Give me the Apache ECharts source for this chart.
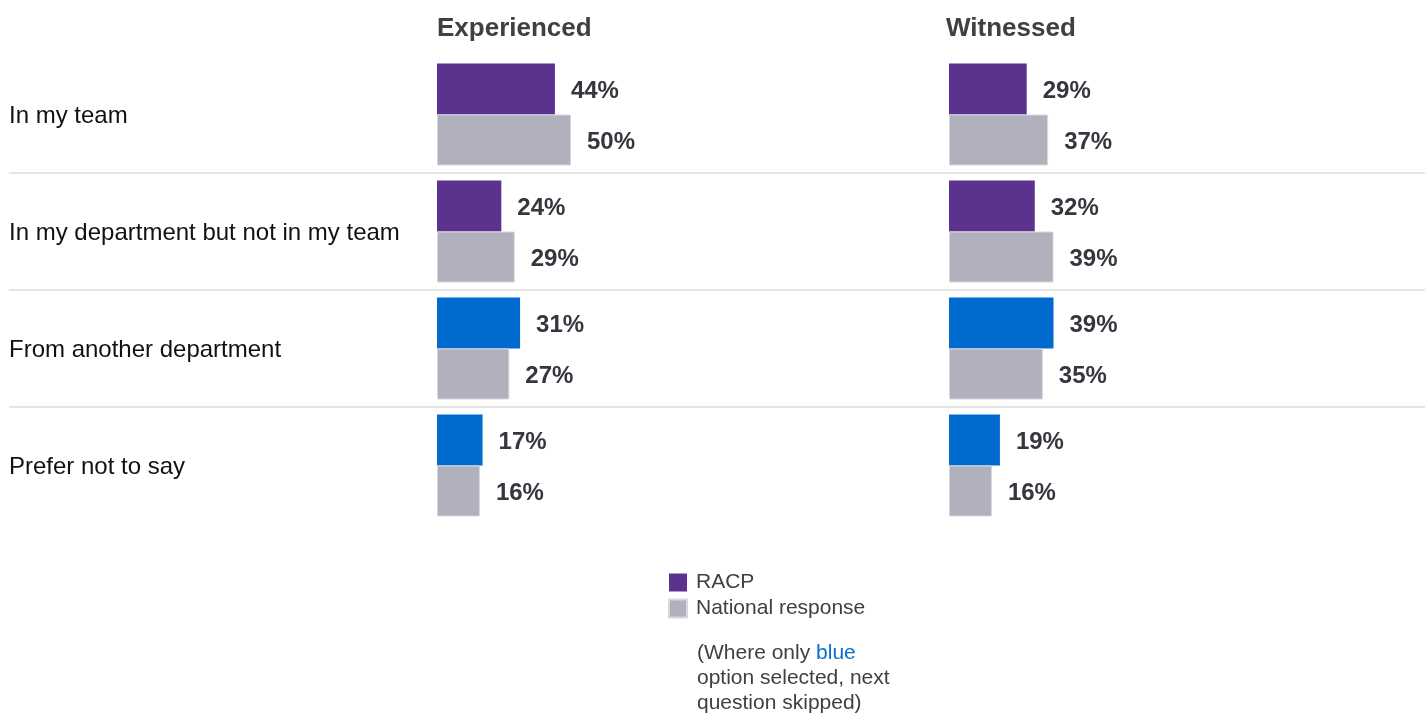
<!DOCTYPE html>
<html><head><meta charset="utf-8">
<script src="https://cdn.jsdelivr.net/npm/echarts@6/dist/echarts.min.js"></script>
<style>html,body{margin:0;padding:0;background:#fff}#c{width:1425px;height:714px}</style>
</head><body><div id="c"></div>
<script>
const categories = ['In my team', 'In my department but not in my team', 'From another department', 'Prefer not to say'];
const panelTitles = ['Experienced', 'Witnessed'];
const experiencedRACP = [44, 24, 31, 17];
const experiencedNational = [50, 29, 27, 16];
const witnessedRACP = [29, 32, 39, 19];
const witnessedNational = [37, 39, 35, 16];
const blueFlags = [false, false, true, true];
const seriesNames = ['RACP', 'National response'];

const PURPLE = '#5B338F', BLUE = '#006ACF', GRAY = '#B1B0BD';
const FONT = 'Liberation Sans, Arial, sans-serif';

const chart = echarts.init(document.getElementById('c'));
const rowTop = 56, rowH = 468;
const panelLeft = [437, 949];

function racpData(vals) {
  return vals.map((v, i) => ({ value: v, itemStyle: { color: blueFlags[i] ? BLUE : PURPLE } }));
}
const labelCfg = { show: true, position: 'right', distance: 16, offset: [0, 2], formatter: '{c}%', fontSize: 24, fontWeight: 'bold', color: '#36363f', fontFamily: FONT };

const grids = [
  { left: panelLeft[0], top: rowTop, width: 268, height: rowH },
  { left: panelLeft[1], top: rowTop, width: 268, height: rowH },
  { left: 9, right: 0, top: rowTop, height: rowH }
];
const xAxes = [0, 1, 2].map(i => ({ gridIndex: i, type: 'value', min: 0, max: 100, show: false }));
const yAxes = [
  { gridIndex: 0, type: 'category', data: categories, inverse: true, axisLine: { show: false }, axisTick: { show: false }, splitLine: { show: false },
    axisLabel: { margin: 428, align: 'left', fontSize: 24, color: '#111', fontFamily: FONT,
      formatter: v => '{t|' + v + '}',
      rich: { t: { fontSize: 24, color: '#111', fontFamily: FONT, padding: [4, 0, 0, 0] } } } },
  { gridIndex: 1, type: 'category', data: categories, inverse: true, axisLine: { show: false }, axisTick: { show: false }, axisLabel: { show: false }, splitLine: { show: false } },
  { gridIndex: 2, type: 'category', data: categories, inverse: true, axisLine: { show: false }, axisTick: { show: false }, axisLabel: { show: false },
    splitLine: { show: true, showMinLine: false, showMaxLine: false, lineStyle: { color: '#dcdcdc', width: 1.5 } } }
];

const series = [];
[[experiencedRACP, experiencedNational], [witnessedRACP, witnessedNational]].forEach((pair, gi) => {
  series.push({ name: seriesNames[0], type: 'bar', xAxisIndex: gi, yAxisIndex: gi, barWidth: 51, barGap: '0%',
    itemStyle: { color: PURPLE }, data: racpData(pair[0]), label: labelCfg, silent: true });
  series.push({ name: seriesNames[1], type: 'bar', xAxisIndex: gi, yAxisIndex: gi, barWidth: 51, barGap: '0%',
    itemStyle: { color: GRAY, borderColor: '#d8d7df', borderWidth: 1 }, data: pair[1], label: labelCfg, silent: true });
});

chart.setOption({
  animation: false,
  backgroundColor: '#fff',
  title: panelTitles.map((t, i) => ({ text: t, left: panelLeft[i] - (i ? 3 : 0), top: 16, padding: 0,
    textStyle: { fontSize: 26, fontWeight: 'bold', color: '#404040', fontFamily: FONT } })),
  legend: { orient: 'vertical', left: 668, top: 572, padding: 0, itemGap: 5, itemWidth: 18, itemHeight: 18, icon: 'rect',
    data: seriesNames, selectedMode: false,
    textStyle: { fontSize: 21, color: '#404040', fontFamily: FONT, padding: [0, 0, 0, 4] } },
  grid: grids, xAxis: xAxes, yAxis: yAxes, series: series,
  graphic: [{ type: 'text', left: 697, top: 641,
    style: { text: '(Where only {b|blue}\noption selected, next\nquestion skipped)', fontSize: 21, lineHeight: 25, fill: '#404040', fontFamily: FONT,
      rich: { b: { fill: '#0A6ED1', fontSize: 21, fontFamily: FONT, lineHeight: 25 } } } }]
});
</script></body></html>
